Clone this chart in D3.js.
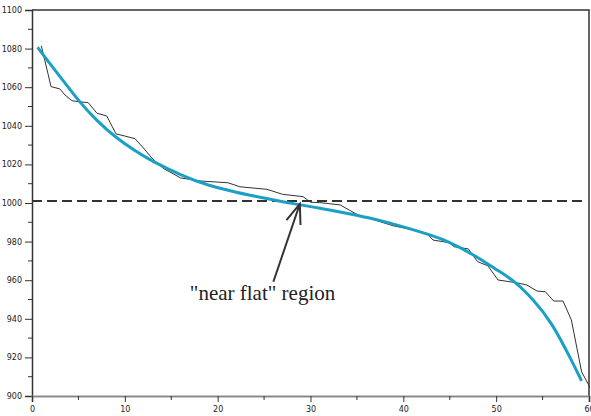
<!DOCTYPE html>
<html>
<head>
<meta charset="utf-8">
<script src="https://cdn.jsdelivr.net/npm/d3@7"></script>
<style>
    body { margin: 0; background: white; }
    svg { display: block; }
</style>
</head>
<body>
<script>
const rawX = [1, 1.5, 2.05, 3, 3.55, 4.3, 5, 6.05, 7, 8.05, 9.05, 10, 11.1, 12, 13, 14.1, 16, 18.1, 21.1, 22.4, 25.3, 27, 29.2, 30, 31, 33.2, 35.1, 37.5, 38.9, 40.7, 42.5, 43.2, 45, 45.4, 47, 48, 49.1, 50.2, 52.2, 53.3, 54.4, 55.3, 56.2, 57.2, 58.1, 59.2, 60.1]
const rawY = [1081.5, 1071.5, 1060.3, 1059.1, 1056, 1053, 1052.5, 1052, 1046.5, 1045.1, 1035.8, 1034.7, 1033.3, 1028.5, 1022.8, 1018.1, 1013, 1011.4, 1010.5, 1008.4, 1007.1, 1004.5, 1003.3, 1000.4, 1000.2, 999, 993.8, 990.3, 988.2, 986.4, 984.3, 980.8, 979.4, 977.4, 976.2, 969.6, 967.5, 960.1, 958.7, 957.5, 954.4, 954, 949.2, 949.2, 939.4, 912.6, 904.5]

// smooth fit (blue)
const fitX = [0.6, 2, 3.5, 5, 7, 9, 11, 13, 16, 19, 22, 25, 28, 31, 34, 37, 40, 43, 45, 47.5, 50, 52, 54, 56, 58, 59.2]
const fitY = [1080.7, 1071.8, 1062.5, 1053.3, 1042.8, 1034.3, 1027.4, 1021.7, 1014.7, 1009.3, 1005.6, 1002.6, 999.8, 997.3, 994.6, 991.5, 987.6, 983.2, 979.5, 973.2, 965.6, 959, 949.6, 937, 919.5, 907.8]

const refLevel = 1001
const xTicks = [0, 10, 20, 30, 40, 50, 60]
const yTicks = [900, 920, 940, 960, 980, 1000, 1020, 1040, 1060, 1080, 1100]
const xMinor = [5, 15, 25, 35, 45, 55]
const yMinor = [910, 930, 950, 970, 990, 1010, 1030, 1050, 1070, 1090]

// annotation: arrow tail -> tip, label
const note = { text: '"near flat" region', x: 17, y: 950, tail: [26, 959.2], tip: [28.85, 999.5] }

const [width, height] = [591, 416]
const colors = {
    "dark": "#333",
    "axis": "#8a8a8a",
    "blue": "#19a0c4",
}

const x = d3.scaleLinear().domain([0, 60]).range([32, 589])
const y = d3.scaleLinear().domain([900, 1100]).range([396, 10])

const svg = d3.select("body")
    .append("svg")
        .attr("width", width)
        .attr("height", height)

// frame top + right
svg.append("path")
    .attr("d", `M${x(0)},${y(1100)}H${x(60)}V${y(900)}`)
    .attr("fill", "none")
    .attr("stroke", colors.dark)
    .attr("stroke-width", 1.5)

// y axis
const yAxis = svg.append("g")
    .attr("transform", `translate(${x(0)},0)`)
    .call(d3.axisLeft(y).tickValues(yTicks).tickSize(7).tickPadding(3).tickFormat(d3.format("d")))
yAxis.select(".domain").attr("stroke", colors.dark).attr("stroke-width", 1.5)
yAxis.selectAll(".tick line").attr("stroke", colors.dark)
yAxis.selectAll("text").attr("font-family", "DejaVu Sans").attr("font-size", 8).attr("fill", "#222")
yAxis.selectAll(".minor")
    .data(yMinor)
    .join("line")
        .attr("x1", -4).attr("x2", 0)
        .attr("y1", d => y(d)).attr("y2", d => y(d))
        .attr("stroke", colors.dark)

// x axis
const xAxis = svg.append("g")
    .attr("transform", `translate(0,${y(900)})`)
    .call(d3.axisBottom(x).tickValues(xTicks).tickSize(6).tickPadding(4).tickFormat(d3.format("d")))
xAxis.select(".domain").attr("stroke", colors.axis).attr("stroke-width", 2)
xAxis.selectAll(".tick line").attr("stroke", colors.dark)
xAxis.selectAll("text").attr("font-family", "DejaVu Sans").attr("font-size", 8).attr("fill", "#222")
xAxis.selectAll(".minor")
    .data(xMinor)
    .join("line")
        .attr("x1", d => x(d)).attr("x2", d => x(d))
        .attr("y1", 0).attr("y2", 4)
        .attr("stroke", colors.dark)

// dashed reference line
svg.append("line")
    .attr("x1", x(0)).attr("x2", x(59.6))
    .attr("y1", y(refLevel)).attr("y2", y(refLevel))
    .attr("stroke", colors.dark)
    .attr("stroke-width", 2)
    .attr("stroke-dasharray", "10,5")

// raw data
svg.append("path")
    .datum(d3.zip(rawX, rawY))
    .attr("fill", "none")
    .attr("stroke", colors.dark)
    .attr("stroke-width", 1)
    .attr("d", d3.line().x(d => x(d[0])).y(d => y(d[1])))

// fitted curve
svg.append("path")
    .datum(d3.zip(fitX, fitY))
    .attr("fill", "none")
    .attr("stroke", colors.blue)
    .attr("stroke-width", 3)
    .attr("d", d3.line().curve(d3.curveNatural).x(d => x(d[0])).y(d => y(d[1])))

// arrow
const [tx, ty] = [x(note.tip[0]), y(note.tip[1])]
const [sx, sy] = [x(note.tail[0]), y(note.tail[1])]
const ang = Math.atan2(sy - ty, sx - tx)
const barb = (a) => [tx + 21 * Math.cos(ang + a), ty + 21 * Math.sin(ang + a)]
svg.append("path")
    .attr("d", `M${sx},${sy}L${tx},${ty}M${barb(0.36)}L${tx},${ty}L${barb(-0.36)}`)
    .attr("fill", "none")
    .attr("stroke", colors.dark)
    .attr("stroke-width", 2)

svg.append("text")
    .attr("x", x(note.x))
    .attr("y", y(note.y))
    .attr("font-family", "Liberation Serif")
    .attr("font-size", 21)
    .attr("fill", "#222")
    .text(note.text)
</script>
</body>
</html>
